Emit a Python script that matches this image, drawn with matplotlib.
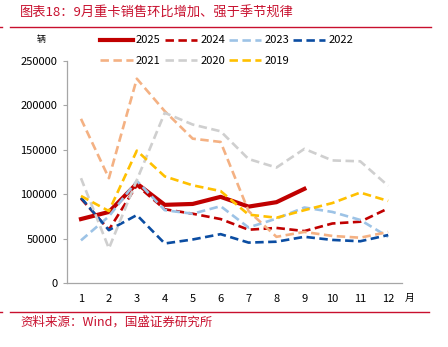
import matplotlib
matplotlib.use("Agg")
import matplotlib.pyplot as plt
from matplotlib.lines import Line2D

plt.rcParams['font.family'] = ['Noto Sans CJK SC', 'DejaVu Sans']

# 数据
months = [1, 2, 3, 4, 5, 6, 7, 8, 9, 10, 11, 12]
month_labels = [str(m) for m in months]
s2025 = [72000, 80000, 112000, 88000, 89000, 97000, 86000, 91000, 106000]
s2024 = [95000, 60000, 110000, 83000, 78000, 72000, 60000, 62000, 58500, 67000, 69000, 84000]
s2023 = [48000, 75000, 115000, 82000, 78000, 86500, 62500, 72500, 85000, 80000, 71000, 52000]
s2022 = [96000, 59500, 76500, 44500, 49000, 55000, 45500, 46500, 52000, 48500, 47000, 54000]
s2021 = [184800, 118000, 230000, 193400, 162500, 158800, 81000, 52000, 57500, 53000, 51000, 57500]
s2020 = [118000, 39000, 116000, 191600, 178400, 170800, 139600, 130000, 151000, 138000, 137000, 109400]
s2019 = [98000, 81000, 149000, 120000, 110000, 103500, 77000, 73500, 82000, 90000, 101800, 92400]

series = [
    ('2025', s2025, '#C00000', '-', 3.0),
    ('2024', s2024, '#C00000', '--', 1.9),
    ('2023', s2023, '#9DC3E6', '--', 1.9),
    ('2022', s2022, '#0B4DA2', '--', 1.9),
    ('2021', s2021, '#F4B183', '--', 1.9),
    ('2020', s2020, '#CFCFCF', '--', 1.9),
    ('2019', s2019, '#FFC000', '--', 1.9),
]

red = '#C8102E'

fig = plt.figure(figsize=(4.48, 3.47), dpi=100)
ax = fig.add_axes([0.1496, 0.1844, 0.748, 0.640])

handles = {}
for name, vals, col, ls, lw in series:
    h, = ax.plot(months[:len(vals)], vals, color=col, linestyle=ls, linewidth=lw,
                 dashes=(3.2, 1.7) if ls == '--' else (None, None))
    handles[name] = h

ax.set_xlim(0.5, 12.5)
ax.set_ylim(0, 250000)
ax.set_yticks([0, 50000, 100000, 150000, 200000, 250000])
ax.set_yticklabels(['0', '50000', '100000', '150000', '200000', '250000'])
ax.set_xticks(months)
ax.set_xticklabels(month_labels)
for sp in ['top', 'right']:
    ax.spines[sp].set_visible(False)
for sp in ['left', 'bottom']:
    ax.spines[sp].set_color('#A6A6A6')
    ax.spines[sp].set_linewidth(0.9)
ax.tick_params(axis='y', length=3, color='#A6A6A6', labelsize=8, pad=4)
ax.tick_params(axis='x', length=0, labelsize=8, pad=8)

# 图例：按行排列
order = ['2025', '2021', '2024', '2020', '2023', '2019', '2022']
leg = fig.legend([handles[k] for k in order], order, loc='upper left',
                 bbox_to_anchor=(0.224, 0.898), ncol=4, frameon=False,
                 fontsize=8, handlelength=2.9, handletextpad=0.3,
                 columnspacing=0.35, labelspacing=0.95, borderaxespad=0,
                 borderpad=0)

fig.text(0.092, 0.885, '辆', fontsize=6.5, ha='center', va='center')
fig.text(0.903, 0.142, '月', fontsize=7, ha='left', va='center')

# 标题与来源
fig.text(0.045, 0.962, '图表18：9月重卡销售环比增加、强于季节规律', fontsize=9.5,
         color=red, style='italic', ha='left', va='center')
fig.add_artist(Line2D([0.022, 0.962], [0.922, 0.922], transform=fig.transFigure,
                      color=red, linewidth=1.0))
fig.add_artist(Line2D([0.0, 0.004], [0.922, 0.922], transform=fig.transFigure,
                      color=red, linewidth=1.0))
fig.add_artist(Line2D([0.022, 0.958], [0.101, 0.101], transform=fig.transFigure,
                      color=red, linewidth=1.0))
fig.add_artist(Line2D([0.0, 0.004], [0.101, 0.101], transform=fig.transFigure,
                      color=red, linewidth=1.0))
fig.text(0.045, 0.071, '资料来源：Wind，国盛证券研究所', fontsize=9,
         color=red, style='italic', ha='left', va='center')

fig.savefig('out.png', dpi=100)
